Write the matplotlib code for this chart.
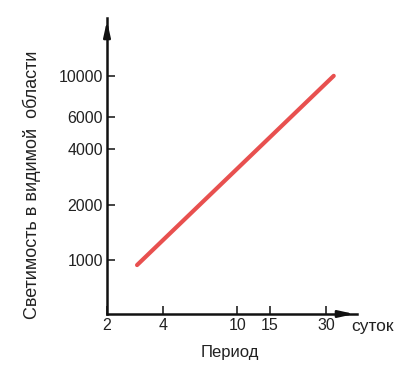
import matplotlib
matplotlib.use("Agg")
import matplotlib.pyplot as plt
from matplotlib.ticker import FixedLocator, NullLocator

# Data
period_days = [2.9, 33]
luminosity = [940, 10000]
x_ticks = [2, 4, 10, 15, 30]
x_tick_labels = ["2", "4", "10", "15", "30"]
y_ticks = [1000, 2000, 4000, 6000, 10000]
y_tick_labels = ["1000", "2000", "4000", "6000", "10000"]

plt.rcParams['font.family'] = ['Liberation Sans', 'DejaVu Sans']

fig = plt.figure(figsize=(4.05, 3.69), dpi=100)
ax = fig.add_axes([107/405, 55/369, (357-107)/405, (314-18)/369])
ax.set_xscale('log')
ax.set_yscale('log')
ax.set_xlim(2, 44)
ax.set_ylim(510, 20600)

ax.plot(period_days, luminosity, color='#e8504f', lw=3, solid_capstyle='round')

ax.xaxis.set_major_locator(FixedLocator(x_ticks))
ax.xaxis.set_minor_locator(NullLocator())
ax.set_xticklabels(x_tick_labels)
ax.yaxis.set_major_locator(FixedLocator(y_ticks))
ax.yaxis.set_minor_locator(NullLocator())
ax.set_yticklabels(y_tick_labels)
ax.tick_params(direction='in', length=6, width=1.2, labelsize=11.5, colors='#222222', pad=3)

for s in ['top', 'right']:
    ax.spines[s].set_visible(False)
for s in ['left', 'bottom']:
    ax.spines[s].set_linewidth(1.8)
    ax.spines[s].set_color('#111111')

# arrowheads
ax.annotate('', xy=(1.0, 0), xytext=(0.93, 0), xycoords='axes fraction',
            arrowprops=dict(arrowstyle='-|>,head_length=0.9,head_width=0.2', color='#111111', lw=1.8),
            annotation_clip=False)
ax.annotate('', xy=(0, 1.0), xytext=(0, 0.93), xycoords='axes fraction',
            arrowprops=dict(arrowstyle='-|>,head_length=0.9,head_width=0.2', color='#111111', lw=1.8),
            annotation_clip=False)

fig.text(372/405, 1 - 327/369, 'суток', ha='center', va='center', fontsize=12.5, color='#222222')
fig.text(230/405, 1 - 352/369, 'Период', ha='center', va='center', fontsize=12, color='#222222')
fig.text(32/405, 1 - 185/369, 'Светимость в видимой  области', ha='center', va='center',
         rotation=90, fontsize=13, color='#222222')

fig.savefig('out.png', dpi=100, facecolor='white')
